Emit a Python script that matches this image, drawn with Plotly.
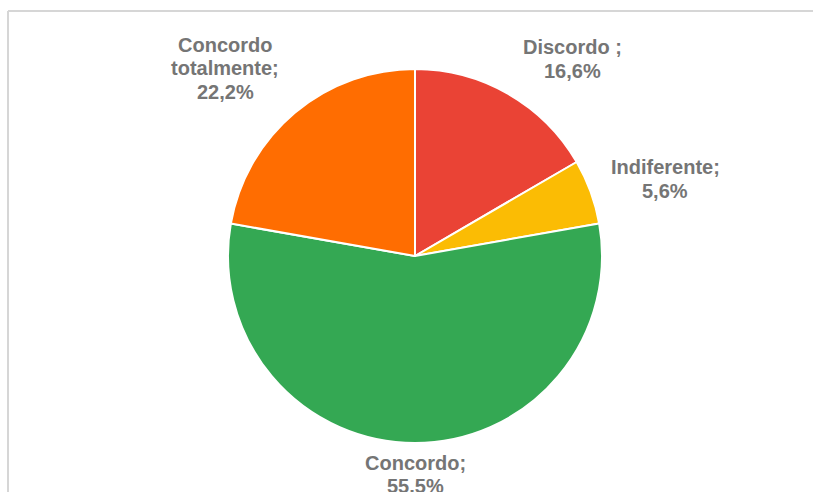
import plotly.graph_objects as go

# Survey answers, clockwise from 12 o'clock
categories = ["Discordo", "Indiferente", "Concordo", "Concordo totalmente"]
shares = [16.6, 5.6, 55.5, 22.2]
colors = ["#EA4335", "#FBBC04", "#34A853", "#FF6D01"]

# How each category name is written above its percentage
label_lines = {
    "Discordo": ["Discordo ;"],
    "Indiferente": ["Indiferente;"],
    "Concordo": ["Concordo;"],
    "Concordo totalmente": ["Concordo", "totalmente;"],
}

W, H = 813, 492
# label block centres in pixels (x, y of first line)
label_pos = {
    "Discordo": (572, 47),
    "Indiferente": (665, 167),
    "Concordo": (415, 462.5),
    "Concordo totalmente": (225, 44.5),
}
LINE_STEP = 23.5

fig = go.Figure(
    go.Pie(
        labels=categories,
        values=shares,
        marker=dict(colors=colors, line=dict(color="white", width=2)),
        sort=False,
        direction="clockwise",
        rotation=0,
        textinfo="none",
        hoverinfo="label+percent",
        domain=dict(x=[228 / W, 602 / W], y=[1 - 443 / H, 1 - 69 / H]),
        showlegend=False,
    )
)

annotations = []
for cat, val in zip(categories, shares):
    lines = label_lines[cat] + [f"{val:.1f}%".replace(".", ",")]
    x0, y0 = label_pos[cat]
    for i, line in enumerate(lines):
        annotations.append(
            dict(
                text=line,
                x=x0 / W,
                y=1 - (y0 + i * LINE_STEP) / H,
                xref="paper",
                yref="paper",
                xanchor="center",
                yanchor="middle",
                showarrow=False,
                font=dict(
                    family="Liberation Sans, Arial, sans-serif",
                    size=20,
                    color="#757575",
                    weight="bold",
                ),
            )
        )

# card border: only the left and top edges fall inside the page
frame = dict(xref="paper", yref="paper", type="line",
             line=dict(color="#D6D6D6", width=2), layer="below")
shapes = [
    dict(frame, x0=8 / W, x1=8 / W, y0=0, y1=1 - 11 / H),
    dict(frame, x0=8 / W, x1=1, y0=1 - 11 / H, y1=1 - 11 / H),
]

fig.update_layout(
    width=W,
    height=H,
    margin=dict(l=0, r=0, t=0, b=0),
    paper_bgcolor="white",
    plot_bgcolor="white",
    annotations=annotations,
    shapes=shapes,
)

fig.write_html("out.html")
